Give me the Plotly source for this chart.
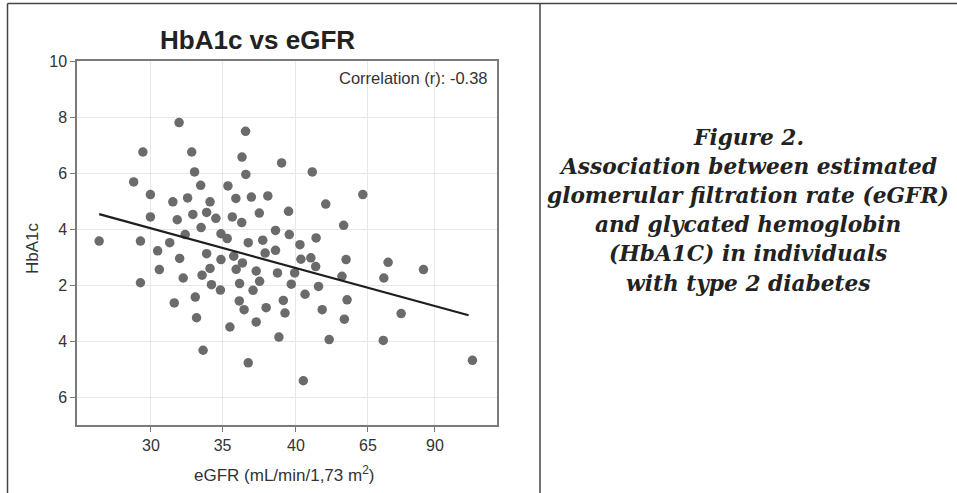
import plotly.graph_objects as go

# ---- data (y in axis units where the labels 4/6 below "2" stand for 0/-2) ----
egfr = [31.98, 36.66, 29.43, 32.87, 36.41, 39.20, 28.78, 33.07, 41.36, 36.68,
        33.50, 35.42, 29.96, 44.92, 31.54, 32.58, 34.16, 35.98, 37.07, 38.23,
        42.31, 29.96, 31.85, 32.95, 33.92, 34.57, 35.73, 36.39, 37.63, 39.69,
        43.57, 26.35, 29.26, 30.47, 30.59, 31.32, 32.02, 32.41, 33.53, 33.92,
        34.16, 33.60, 32.27, 29.26, 34.26, 34.93, 35.37, 34.89, 34.93, 35.83,
        36.00, 36.44, 36.24, 36.85, 37.41, 37.65, 37.19, 37.87, 38.04, 38.77,
        38.77, 38.91, 39.74, 40.12, 39.88, 40.49, 40.56, 41.26, 41.60, 41.63,
        40.85, 41.80, 43.45, 43.74, 43.81, 46.40, 46.70, 49.19, 31.64, 33.12,
        36.22, 39.32, 36.56, 38.11, 39.44, 42.06, 43.62, 47.62, 33.21, 35.56,
        37.41, 39.01, 42.55, 46.36, 33.67, 36.85, 40.73, 52.64]
hba1c = [7.80, 7.49, 6.75, 6.75, 6.57, 6.36, 5.68, 6.04, 6.04, 5.95,
         5.56, 5.54, 5.23, 5.23, 4.97, 5.11, 4.97, 5.09, 5.14, 5.18,
         4.89, 4.43, 4.33, 4.52, 4.59, 4.38, 4.43, 4.23, 4.57, 4.63,
         4.13, 3.57, 3.57, 3.22, 2.55, 3.51, 2.95, 3.80, 4.05, 3.12,
         2.59, 2.35, 2.25, 2.08, 2.01, 3.83, 3.66, 1.82, 2.91, 3.03,
         2.56, 2.79, 2.05, 3.51, 2.50, 2.13, 1.81, 3.60, 3.14, 3.24,
         3.95, 2.43, 3.80, 2.43, 2.03, 3.44, 2.92, 2.97, 2.66, 3.68,
         1.67, 1.95, 2.31, 2.91, 1.47, 2.25, 2.81, 2.55, 1.36, 1.57,
         1.43, 1.45, 1.12, 1.19, 1.00, 1.12, 0.78, 0.98, 0.83, 0.50,
         0.68, 0.14, 0.05, 0.02, -0.33, -0.78, -1.42, -0.69]

trend_x = [26.35, 52.37]
trend_y = [4.53, 0.92]

x_tickvals = [30, 35.04, 40.21, 45.28, 50]
x_ticktext = ["30", "35", "40", "65", "90"]
y_tickvals = [10, 8, 6, 4, 2, 0, -2]
y_ticktext = ["10", "8", "6", "4", "2", "4", "6"]

title_text = "HbA1c vs eGFR"
corr_text = "Correlation (r): -0.38"
x_title = "eGFR (mL/min/1,73 m<sup>2</sup>)"
y_title = "HbA1c"
caption_lines = ["Figure 2.",
                 "Association between estimated",
                 "glomerular filtration rate (eGFR)",
                 "and glycated hemoglobin",
                 "(HbA1C) in individuals",
                 "with type 2 diabetes"]

W, H = 957, 493
ML, MR, MT, MB = 77, 460, 61, 68
PW, PH = W - ML - MR, H - MT - MB


def px(x):
    return (x - ML) / PW


def py(y):
    return (H - MB - y) / PH


SANS = "Liberation Sans, Arial, sans-serif"

fig = go.Figure()
fig.add_trace(go.Scatter(x=egfr, y=hba1c, mode="markers",
                         marker=dict(size=9.5, color="#6b6b6d", line=dict(width=0)),
                         showlegend=False, hoverinfo="x+y"))
fig.add_trace(go.Scatter(x=trend_x, y=trend_y, mode="lines",
                         line=dict(color="#1e1e1e", width=2.2),
                         showlegend=False, hoverinfo="skip"))

axis_common = dict(showline=True, mirror=True, linecolor="#7a7a7a", linewidth=1.5,
                   showgrid=True, gridcolor="#e8e8e8", gridwidth=1, zeroline=False,
                   ticks="outside", ticklen=5, tickwidth=1.2, tickcolor="#777",
                   tickfont=dict(family=SANS, size=16, color="#333"))

fig.update_xaxes(range=[24.79, 54.37], tickmode="array", tickvals=x_tickvals,
                 ticktext=x_ticktext, **axis_common)
fig.update_yaxes(range=[-3, 10], tickmode="array", tickvals=y_tickvals,
                 ticktext=y_ticktext, **axis_common)

ann = []
ann.append(dict(text="<b>" + title_text + "</b>", x=px(257), y=py(40), xref="paper", yref="paper",
                xanchor="center", yanchor="middle", showarrow=False,
                font=dict(family=SANS, size=26, color="#222")))
ann.append(dict(text=corr_text, x=px(490), y=py(78), xref="paper", yref="paper",
                xanchor="right", yanchor="middle", showarrow=False,
                font=dict(family=SANS, size=16.5, color="#333")))
ann.append(dict(text=x_title, x=px(284), y=py(474), xref="paper", yref="paper",
                xanchor="center", yanchor="middle", showarrow=False,
                font=dict(family=SANS, size=17, color="#333")))
ann.append(dict(text=y_title, x=px(33), y=py(248), xref="paper", yref="paper",
                xanchor="center", yanchor="middle", showarrow=False, textangle=-90,
                font=dict(family=SANS, size=17, color="#333")))
cap_y = [137, 166, 195, 224, 253, 283]
for line, yy in zip(caption_lines, cap_y):
    ann.append(dict(text="<b><i>" + line + "</i></b>", x=px(748), y=py(yy), xref="paper", yref="paper",
                    xanchor="center", yanchor="middle", showarrow=False,
                    font=dict(family="DejaVu Serif, serif", size=21.7, color="#222")))

frame = dict(color="#444", width=1.5)
shapes = [
    dict(type="line", xref="paper", yref="paper", x0=px(7.5), x1=px(957), y0=py(3.5), y1=py(3.5), line=frame),
    dict(type="line", xref="paper", yref="paper", x0=px(7.5), x1=px(7.5), y0=py(3.5), y1=py(493), line=frame),
    dict(type="line", xref="paper", yref="paper", x0=px(540), x1=px(540), y0=py(3.5), y1=py(493), line=frame),
]

fig.update_layout(width=W, height=H, autosize=False,
                  margin=dict(l=ML, r=MR, t=MT, b=MB, pad=0),
                  paper_bgcolor="white", plot_bgcolor="white",
                  annotations=ann, shapes=shapes, showlegend=False)

fig.write_html("out.html", config={"displayModeBar": False},
               post_script="document.body.style.margin='0';document.body.style.overflow='hidden';")
